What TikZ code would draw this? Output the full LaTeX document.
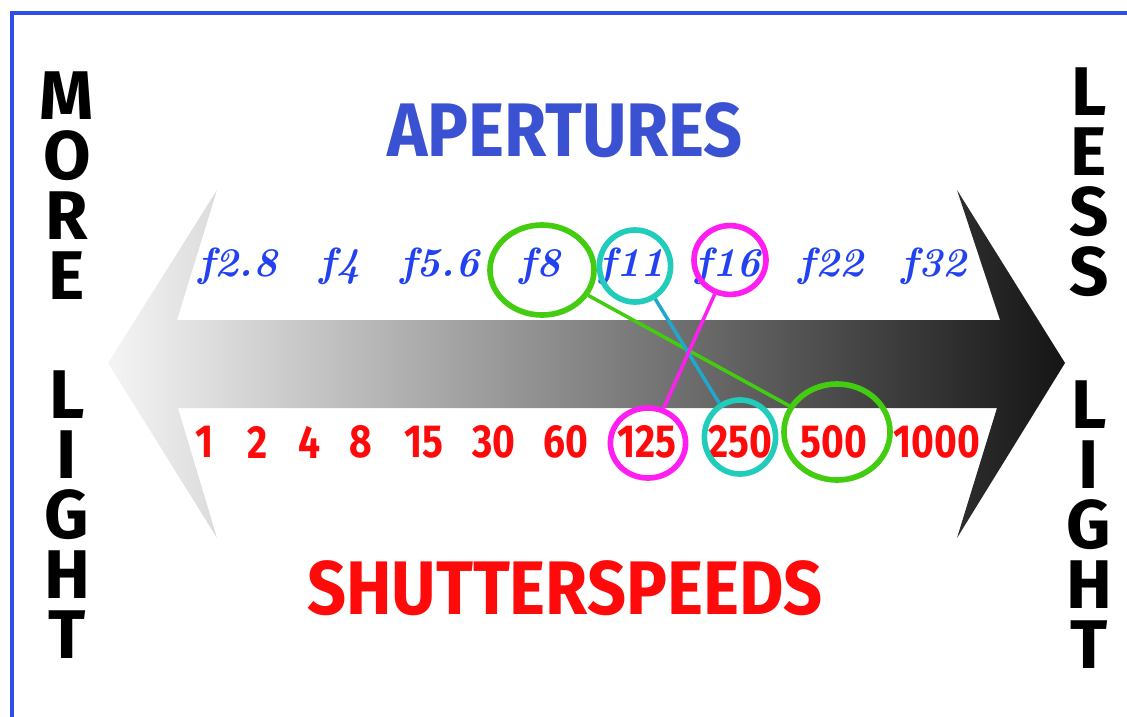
\documentclass[tikz,border=0pt]{standalone}
\usepackage{fontspec}
\setsansfont{Fira Sans}
\newfontfamily\narrowsans{Fira Sans}[FakeStretch=0.84]
\newfontfamily\titlesans{Fira Sans}[FakeStretch=0.9]
\usepackage{tikz}
\usetikzlibrary{shapes.geometric}

\definecolor{frameblue}{HTML}{2E4FE6}
\definecolor{titleblue}{HTML}{3A52D2}
\definecolor{fblue}{HTML}{2242F0}
\definecolor{speedred}{HTML}{FF0A0A}
\definecolor{ringgreen}{HTML}{44CC11}
\definecolor{ringcyan}{HTML}{22CCBB}
\definecolor{linkcyan}{HTML}{20A8CC}
\definecolor{ringmag}{HTML}{FF1EF0}

\begin{document}
\begin{tikzpicture}[
  x=0.025cm, y=-0.025cm,
  side/.style={font=\sffamily\bfseries\fontsize{49}{42.7}\selectfont,
    align=center, inner sep=0pt},
  title/.style={font=\titlesans\bfseries\fontsize{54}{60}\selectfont,
    inner sep=0pt},
  fnum/.style={text=fblue, font=\bfseries\itshape\fontsize{29}{29}\selectfont,
    inner sep=0pt, anchor=base},
  speed/.style={text=speedred, font=\narrowsans\bfseries\fontsize{33}{33}\selectfont,
    inner sep=0pt},
  ring/.style={ellipse, draw=#1, line width=4pt, inner sep=0pt},
  link/.style={draw=#1, line width=2.5pt}
]
  \useasboundingbox (0,0) rectangle (1127,717);

  % frame
  \draw[frameblue, line width=3.2pt] (12,717) -- (12,13) -- (1127,13);

  % double arrow, light to dark
  \shade[left color=black!4, middle color=black!54, right color=black!92]
    (108,363) -- (217,190) -- (177,320) -- (1000,320) -- (957,190)
    -- (1065,363) -- (957,538) -- (997,408) -- (178,408) -- (217,538) -- cycle;

  % side words
  \node[side] (more) at (67,186) {M\\O\\R\\E};
  \node[side] (lightl) at (67,515) {L\\I\\G\\H\\T};
  \node[side] (less) at (1089,182) {L\\E\\S\\S};
  \node[side] (lightr) at (1089,525) {L\\I\\G\\H\\T};

  % titles
  \node[title, text=titleblue] (apert) at (565,130) {APERTURES};
  \node[title, text=speedred] (shut) at (565,588) {SHUTTERSPEEDS};

  % apertures
  \foreach \x/\n/\v in {238/f28/2.8, 340/f4/4, 440/f56/5.6, 540/f8/8,
      632/f11/11, 728/f16/16, 831/f22/22, 934/f32/32}
    \node[fnum] (\n) at (\x,276) {f\v};

  % shutter speeds
  \foreach \x/\v in {205/1, 258/2, 310/4, 361/8, 424/15, 494/30, 566/60,
      647/125, 740/250, 834/500, 937/1000}
    \node[speed] (s\v) at (\x,442) {\v};

  % matching pairs
  \node[ring=ringgreen, minimum width=2.6cm, minimum height=2.25cm] (r8) at (542,270) {};
  \node[ring=ringcyan, minimum width=1.78cm, minimum height=1.8cm] (r11) at (635,266) {};
  \node[ring=ringmag, minimum width=1.8cm, minimum height=1.72cm] (r16) at (730,260) {};
  \node[ring=ringmag, minimum width=1.88cm, minimum height=1.75cm] (r125) at (648,443) {};
  \node[ring=ringcyan, minimum width=1.78cm, minimum height=1.85cm] (r250) at (740,437) {};
  \node[ring=ringgreen, minimum width=2.65cm, minimum height=2.4cm] (r500) at (837,432) {};

  \draw[link=ringgreen] (r8) -- (r500);
  \draw[link=linkcyan] (r11) -- (r250);
  \draw[link=ringmag] (r16) -- (r125);
\end{tikzpicture}
\end{document}
